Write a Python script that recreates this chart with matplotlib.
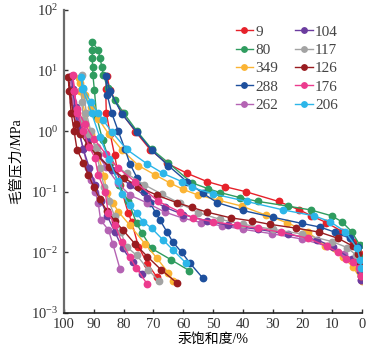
import matplotlib
matplotlib.use("Agg")
import matplotlib.pyplot as plt
from matplotlib.ticker import LogLocator, LogFormatterMathtext, FixedLocator, NullLocator

plt.rcParams['font.family'] = ['Liberation Serif', 'Noto Sans CJK SC', 'DejaVu Sans']
plt.rcParams['mathtext.fontset'] = 'stix'

# ---- data: mercury saturation (%) and capillary pressure (MPa), injection then withdrawal ----
sat_9 = [0, 0.3, 1, 3, 6.6, 12, 17, 21, 28, 39, 46, 52, 58.6, 65.5, 71, 76, 80.6, 84.6, 85.5,
         86, 85.8, 84.5, 83, 81.2, 78.4, 77.3, 75, 72, 68.8]
p_9 = [0.005, 0.0075, 0.0097, 0.0148, 0.022, 0.031, 0.04, 0.05, 0.069, 0.10, 0.121, 0.147, 0.20, 0.295, 0.49, 0.98, 1.97, 4.8, 8.0,
       5.0, 2.0, 0.9, 0.4, 0.13, 0.044, 0.032, 0.0124, 0.0065, 0.0039]

sat_80 = [0.1, 0.7, 3.5, 6.8, 10.2, 17.2, 25, 34.8, 41, 47.7, 51.6, 57.2, 65, 70.5, 75.5, 80, 83, 85.3, 86.8, 87.3, 87.9, 88.5, 90.7,
          90.5, 90.5, 90.4, 90.3, 89.8, 89, 87, 84.5, 81.5, 78.4, 75.6, 73.9, 70.6, 64, 58]
p_80 = [0.008, 0.013, 0.022, 0.032, 0.040, 0.050, 0.058, 0.069, 0.08, 0.097, 0.112, 0.141, 0.3, 0.5, 1.0, 2.0, 3.3, 5.1, 8.5, 11.6, 15.9, 21.9, 30,
        22, 16, 11.6, 8.5, 4.8, 1.7, 0.7, 0.3, 0.13, 0.069, 0.030, 0.021, 0.0116, 0.0075, 0.005]

sat_349 = [0.1, 3.1, 6.3, 12.4, 18, 25.3, 32.2, 40.4, 48, 55, 60, 64.5, 69.5, 75, 80.6, 85, 88.5, 91, 93, 94.5, 95,
           94.5, 93, 91, 88.5, 86.5, 85.7, 83.5, 81.8, 77.9, 72.8, 68.9, 65, 63.4]
p_349 = [0.0034, 0.0058, 0.0083, 0.0126, 0.0215, 0.031, 0.041, 0.058, 0.072, 0.088, 0.109, 0.14, 0.19, 0.27, 0.49, 0.9, 1.6, 2.5, 4, 6.3, 7.5,
         4.5, 2.0, 0.9, 0.4, 0.18, 0.095, 0.065, 0.047, 0.028, 0.0138, 0.0081, 0.0046, 0.0034]

sat_288 = [0, 0.3, 1.2, 4, 9.1, 14, 20.2, 30, 40, 48.6, 53.5, 58.8, 65, 70.5, 75.5, 80.5, 84.5, 86,
           85.5, 84, 81.8, 79.5, 77.9, 75.5, 73, 71, 69.1, 67.8, 65.5, 63.5, 60.5, 57.7, 53.5]
p_288 = [0.0043, 0.007, 0.0124, 0.017, 0.0215, 0.026, 0.030, 0.038, 0.049, 0.066, 0.095, 0.147, 0.27, 0.48, 0.95, 1.9, 4.5, 8,
         4.0, 2.0, 1.0, 0.5, 0.29, 0.17, 0.1, 0.064, 0.044, 0.034, 0.022, 0.0148, 0.01, 0.0066, 0.0038]

sat_262 = [0.2, 0.5, 3, 6, 11.8, 20, 30.3, 40, 47, 54, 60, 66.1, 72, 77.9, 82, 86, 90, 93, 95.5, 97, 97.5, 97.8,
           97.2, 96.3, 95, 93.5, 92, 91, 89.5, 88.5, 87.7, 85.1, 83.6, 81.2]
p_262 = [0.0035, 0.005, 0.0075, 0.0095, 0.0127, 0.0165, 0.0203, 0.024, 0.0274, 0.031, 0.0365, 0.046, 0.065, 0.088, 0.14, 0.26, 0.5, 0.9, 1.6, 3, 5, 8,
         4.5, 2, 1, 0.5, 0.25, 0.155, 0.1, 0.065, 0.034, 0.0235, 0.0138, 0.0053]

sat_104 = [0.2, 0.6, 3.5, 9.6, 15, 25, 35, 45, 52, 60, 66, 72, 78, 84, 88.5, 92, 94.5, 96, 97, 97.3,
           96.8, 96, 95, 93.5, 91.5, 89.5, 87.5, 85.5, 82.9, 80.3, 77, 73.8]
p_104 = [0.0035, 0.005, 0.0077, 0.0122, 0.016, 0.02, 0.024, 0.028, 0.033, 0.042, 0.055, 0.08, 0.13, 0.23, 0.4, 0.7, 1.3, 2.5, 5, 8,
         4.5, 2, 1, 0.5, 0.25, 0.13, 0.07, 0.04, 0.0215, 0.0116, 0.0068, 0.0044]

sat_117 = [0.3, 0.8, 2, 5, 10, 20, 30, 40, 47.6, 55, 61, 67, 73, 79, 85, 89, 92, 93.5, 94, 94,
           93.5, 92.5, 91, 89.5, 88, 86.5, 85, 83, 81, 79, 75.6, 71.7, 68.1]
p_117 = [0.004, 0.006, 0.009, 0.012, 0.015, 0.02, 0.024, 0.029, 0.035, 0.045, 0.064, 0.09, 0.13, 0.2, 0.33, 0.55, 0.9, 1.5, 3.0, 8.4,
         5, 2, 1.0, 0.5, 0.25, 0.12, 0.07, 0.04, 0.022, 0.0124, 0.0089, 0.0052, 0.0033]

sat_126 = [0.3, 0.8, 1.5, 2.9, 8, 14.3, 22, 31, 37, 44, 52, 57, 62.2, 68.9, 75, 80, 85, 89, 92, 94.5, 96, 97, 97.8, 98.6,
           98.2, 97.6, 96.6, 95.6, 93.5, 91.8, 90, 88, 85.5, 83, 80.1, 76.2, 72, 67.5, 62]
p_126 = [0.004, 0.0065, 0.0095, 0.0125, 0.017, 0.0215, 0.025, 0.029, 0.033, 0.037, 0.046, 0.055, 0.066, 0.088, 0.12, 0.17, 0.26, 0.4, 0.6, 0.9, 1.3, 2.0, 4.5, 7.8,
         4.5, 2.0, 1.0, 0.49, 0.3, 0.19, 0.12, 0.075, 0.048, 0.033, 0.023, 0.0138, 0.0085, 0.0052, 0.0031]

sat_176 = [0.3, 1, 3, 5.4, 8, 11.8, 18, 27.3, 35, 41.8, 50, 56.6, 61, 68.3, 76.2, 82, 86, 90, 93, 95.5, 96.6, 97,
           96.5, 95.5, 93.5, 91.5, 89.6, 88.5, 86.2, 85.1, 82.9, 80.6, 78, 75.8, 72.1]
p_176 = [0.004, 0.0055, 0.0068, 0.0077, 0.01, 0.0125, 0.017, 0.0215, 0.025, 0.028, 0.032, 0.037, 0.046, 0.069, 0.147, 0.25, 0.42, 0.75, 1.3, 2.3, 4.5, 8.4,
         4.5, 2.0, 1.0, 0.55, 0.36, 0.19, 0.1, 0.044, 0.028, 0.0148, 0.0085, 0.0056, 0.003]

sat_206 = [0.2, 0.7, 1.6, 5.7, 10.7, 16.1, 26.4, 38.7, 49.9, 57.1, 60.5, 66.7, 72.2, 79, 84, 86.8, 88.5, 91, 93.5, 94.3,
           93.8, 90.7, 88, 85, 82, 80.6, 78, 75.6, 73.4, 70.6, 66.7, 63.3, 59]
p_206 = [0.0055, 0.0075, 0.0116, 0.022, 0.032, 0.040, 0.050, 0.069, 0.092, 0.118, 0.147, 0.20, 0.29, 0.5, 0.98, 1.5, 1.97, 3.0, 5.1, 7.8,
         5.0, 1.97, 0.8, 0.35, 0.15, 0.092, 0.06, 0.044, 0.032, 0.025, 0.0159, 0.0108, 0.0066]

labels = ['9', '80', '349', '288', '262', '104', '117', '126', '176', '206']
sats = [sat_9, sat_80, sat_349, sat_288, sat_262, sat_104, sat_117, sat_126, sat_176, sat_206]
pres = [p_9, p_80, p_349, p_288, p_262, p_104, p_117, p_126, p_176, p_206]
colors = ['#e6212a', '#2f9c5f', '#fbb434', '#1d4f9d', '#b463b3',
          '#6b3c9f', '#a3a3a3', '#991c20', '#ec3b8e', '#2cb6e9']

x_ticks = [100, 90, 80, 70, 60, 50, 40, 30, 20, 10, 0]

fig = plt.figure(figsize=(3.74, 3.52), dpi=100)
ax = fig.add_axes([0.171, 0.111, 0.797, 0.861])

for lab, s, p, c in zip(labels, sats, pres, colors):
    ax.plot(s, p, '-o', color=c, lw=1.0, ms=4.6, mec=c, mfc=c, label=lab)

ax.set_yscale('log')
ax.set_ylim(1e-3, 1e2)
ax.set_xlim(100, 0)
ax.xaxis.set_major_locator(FixedLocator(x_ticks))
ax.yaxis.set_major_locator(LogLocator(base=10, numticks=10))
ax.yaxis.set_minor_locator(NullLocator())
ax.yaxis.set_major_formatter(LogFormatterMathtext())

for side in ['top', 'right']:
    ax.spines[side].set_visible(False)
ax.spines['left'].set_color('#6b6b6b')
ax.spines['left'].set_linewidth(1.6)
ax.spines['bottom'].set_color('#222222')
ax.spines['bottom'].set_linewidth(1.2)
ax.tick_params(direction='in', length=3, width=1.0, labelsize=10.5, colors='#333333', pad=4)

ax.set_ylabel('毛管压力/MPa', fontsize=10, labelpad=6)
ax.set_xlabel('汞饱和度/%', fontsize=10, labelpad=1)

leg = ax.legend(ncol=2, loc='upper right', bbox_to_anchor=(0.955, 0.985), frameon=False,
                fontsize=11, handlelength=1.15, handletextpad=0.15, columnspacing=1.1,
                labelspacing=0.3, markerscale=0.85, borderpad=0.2)
for t in leg.get_texts():
    t.set_color('#444444')

fig.savefig('out.png', dpi=100)
